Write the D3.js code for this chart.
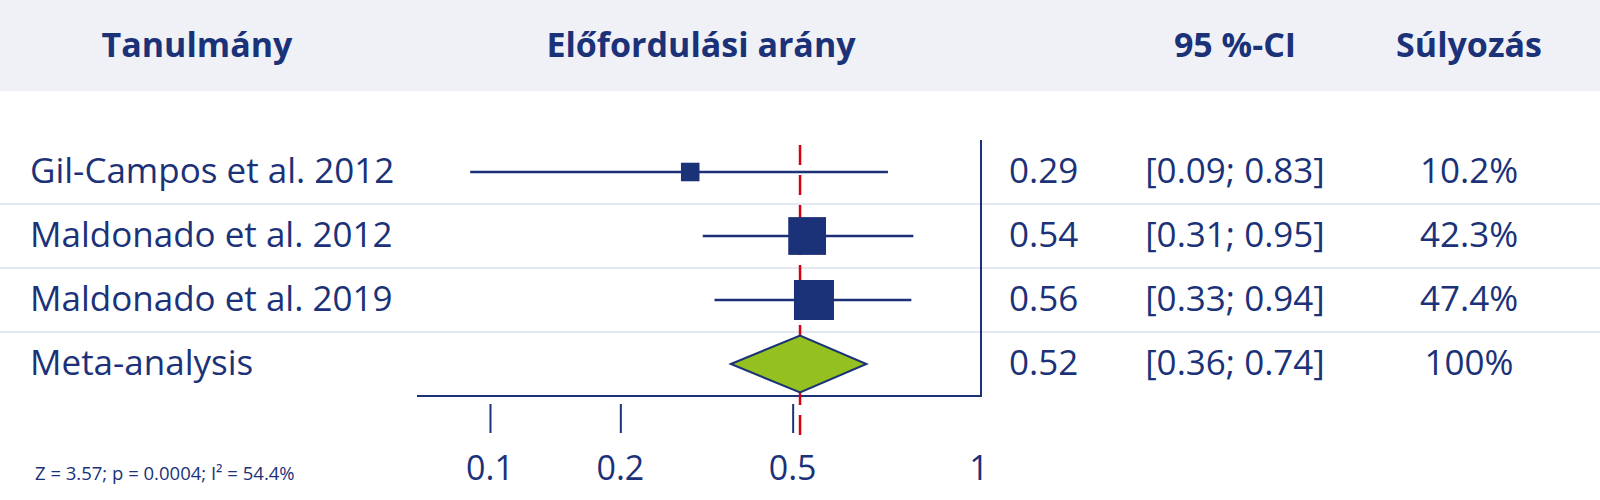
<!DOCTYPE html>
<html>
<head>
<meta charset="utf-8">
<script src="https://cdn.jsdelivr.net/npm/d3@7/dist/d3.min.js"></script>
<style>
  html, body { margin: 0; padding: 0; background: #ffffff; }
  svg { display: block; }
  text { font-family: "Open Sans", Lato, sans-serif; fill: #1b3278; }
</style>
</head>
<body>
<svg id="chart" width="1600" height="500"></svg>
<script>
// ---------- data ----------
const headers = ["Tanulmány", "Előfordulási arány", "95 %-CI", "Súlyozás"];
const studies = ["Gil-Campos et al. 2012", "Maldonado et al. 2012", "Maldonado et al. 2019"];
const estimates = [0.29, 0.54, 0.56];
const lowers = [0.09, 0.31, 0.33];
const uppers = [0.83, 0.95, 0.94];
const weights = [10.2, 42.3, 47.4];
const metaLabel = "Meta-analysis";
const metaEstimate = 0.52;
const metaLower = 0.36;
const metaUpper = 0.74;
const metaWeight = 100;
const tickValues = [0.1, 0.2, 0.5];
const tickLabels = ["0.1", "0.2", "0.5", "1"];
const statsText = "Z = 3.57; p = 0.0004; I² = 54.4%";

// ---------- styles ----------
const NAVY = "#1b3278";
const RED = "#d6000f";
const GREEN = "#94c11f";
const HEADER_BG = "#eff1f6";
const SEP = "#e4e8f0";

const svg = d3.select("#chart");
const W = 1600;

// scales
const x = d3.scaleLog().domain([0.1, 1]).range([490, 923]);
const rowKeys = studies.concat([metaLabel]);
const y = d3.scalePoint().domain(rowKeys).range([172, 364]);
const side = d3.scaleSqrt().domain([0, d3.max(weights)]).range([0, 40]);

const frameLeft = 417, frameRight = 981, frameTop = 140, axisY = 396;

// header band
svg.append("rect").attr("x", 0).attr("y", 0).attr("width", W).attr("height", 91).attr("fill", HEADER_BG);
const headerX = [197, 701, 1235, 1469];
svg.selectAll("text.header").data(headers).enter().append("text")
  .attr("class", "header")
  .attr("x", (d, i) => headerX[i]).attr("y", 57)
  .attr("text-anchor", "middle")
  .style("font-weight", 700).style("font-size", "34px")
  .text(d => d);

// separators
const step = y.step();
svg.selectAll("line.sep").data(rowKeys.slice(0, -1)).enter().append("line")
  .attr("class", "sep")
  .attr("x1", 0).attr("x2", W)
  .attr("y1", d => y(d) + step / 2).attr("y2", d => y(d) + step / 2)
  .attr("stroke", SEP).attr("stroke-width", 2);

// frame (bottom axis line + right border)
svg.append("path")
  .attr("d", `M${frameLeft},${axisY}H${frameRight}V${frameTop}`)
  .attr("fill", "none").attr("stroke", NAVY).attr("stroke-width", 2);

// ticks
const axisG = svg.append("g").attr("transform", `translate(0,${axisY + 8})`);
axisG.call(d3.axisBottom(x).tickValues(tickValues).tickSize(29).tickFormat(() => ""));
axisG.select(".domain").remove();
axisG.selectAll(".tick line").attr("stroke", NAVY).attr("stroke-width", 2);

// tick labels
const labelPos = tickValues.map(v => x(v)).concat([frameRight - 2]);
svg.selectAll("text.tl").data(tickLabels).enter().append("text")
  .attr("class", "tl")
  .attr("x", (d, i) => labelPos[i]).attr("y", 480)
  .attr("text-anchor", "middle")
  .style("font-size", "34px")
  .text(d => d);

// reference dashed line at pooled estimate
svg.append("line")
  .attr("x1", x(metaEstimate)).attr("x2", x(metaEstimate))
  .attr("y1", 145).attr("y2", 435)
  .attr("stroke", RED).attr("stroke-width", 2.5)
  .attr("stroke-dasharray", "20,10");

// study CI lines and squares
const rows = studies.map((s, i) => ({ s, est: estimates[i], lo: lowers[i], hi: uppers[i], w: weights[i] }));
svg.selectAll("line.ci").data(rows).enter().append("line")
  .attr("class", "ci")
  .attr("x1", d => x(d.lo)).attr("x2", d => x(d.hi))
  .attr("y1", d => y(d.s)).attr("y2", d => y(d.s))
  .attr("stroke", NAVY).attr("stroke-width", 2.5);
svg.selectAll("rect.sq").data(rows).enter().append("rect")
  .attr("class", "sq")
  .attr("x", d => x(d.est) - side(d.w) / 2)
  .attr("y", d => y(d.s) - side(d.w) / 2)
  .attr("width", d => side(d.w)).attr("height", d => side(d.w))
  .attr("fill", NAVY);

// diamond
const my = y(metaLabel), dh = 28.5;
svg.append("path")
  .attr("d", `M${x(metaLower)},${my}L${x(metaEstimate)},${my - dh}L${x(metaUpper)},${my}L${x(metaEstimate)},${my + dh}Z`)
  .attr("fill", GREEN).attr("stroke", NAVY).attr("stroke-width", 2).attr("stroke-linejoin", "miter");

// row texts
const allRows = rows.concat([{ s: metaLabel, est: metaEstimate, lo: metaLower, hi: metaUpper, w: metaWeight }]);
const f2 = d3.format(".2f");
const fw = w => (w === 100 ? "100" : d3.format(".1f")(w)) + "%";
const textSize = "35px";
svg.selectAll("text.lab").data(allRows).enter().append("text")
  .attr("x", 30).attr("y", d => y(d.s) + 11)
  .style("font-size", textSize).text(d => d.s);
svg.selectAll("text.est").data(allRows).enter().append("text")
  .attr("x", 1009).attr("y", d => y(d.s) + 11)
  .style("font-size", textSize).text(d => f2(d.est));
svg.selectAll("text.cit").data(allRows).enter().append("text")
  .attr("x", 1235).attr("y", d => y(d.s) + 11).attr("text-anchor", "middle")
  .style("font-size", textSize).text(d => `[${f2(d.lo)}; ${f2(d.hi)}]`);
svg.selectAll("text.wt").data(allRows).enter().append("text")
  .attr("x", 1469).attr("y", d => y(d.s) + 11).attr("text-anchor", "middle")
  .style("font-size", textSize).text(d => fw(d.w));

// stats footnote
svg.append("text").attr("x", 35).attr("y", 480).style("font-size", "18.5px").text(statsText);
</script>
</body>
</html>
